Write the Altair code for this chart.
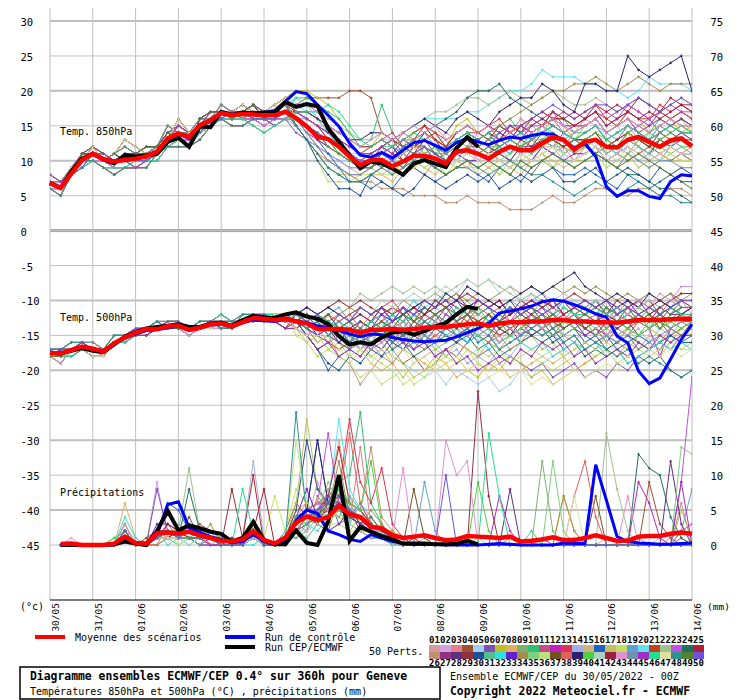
import altair as alt
import pandas as pd

DAYS = ["30/05", "31/05", "01/06", "02/06", "03/06", "04/06", "05/06", "06/06",
        "07/06", "08/06", "09/06", "10/06", "11/06", "12/06", "13/06", "14/06"]
TICKS = [-45, -40, -35, -30, -25, -20, -15, -10, -5, 0, 5, 10, 15, 20, 25, 30]
THICK = [-40, -30, -20, -10, 10, 20, 30]

COLORS = ["#d49aa0", "#d4a0e0", "#e08088", "#a05030", "#a0d0f0", "#8050b0", "#c0c020", "#e0b060", "#80b070", "#30c070",
          "#c05080", "#c020c0", "#e03050", "#a0b0e0", "#d0b080", "#2060c0", "#c0c060", "#c0e060", "#60a0d0", "#60e0f0",
          "#c04020", "#a0c090", "#c050e0", "#207060", "#b02030",
          "#c09070", "#903080", "#603080", "#903040", "#205090", "#50c090", "#30e0e0", "#6020d0", "#a09050", "#80d080",
          "#c0e080", "#705020", "#e06060", "#302070", "#50d040", "#b0d0c0", "#a02040", "#e090d0", "#7090b0", "#a030c0",
          "#20e090", "#e0e0a0", "#309090", "#508030", "#7050e0"]

# ---- mean / control / operational (850 hPa, 500 hPa in degC; precip in mm, steps 1..60)
MEAN850 = [6.8, 6.1, 8.2, 10.1, 11.0, 10.2, 9.9, 10.1, 10.3, 10.6, 11.3, 13.2, 13.9, 13.4, 15.1, 15.8, 16.8, 16.5, 16.7, 16.6,
           16.5, 16.5, 17.0, 16.1, 14.9, 13.4, 13.1, 12.0, 10.6, 9.4, 10.1, 10.1, 9.2, 9.9, 10.7, 10.7, 10.3, 9.6, 11.3, 11.5,
           11.0, 10.3, 11.3, 12.0, 11.5, 11.5, 12.5, 13.4, 13.0, 11.6, 12.7, 13.0, 12.0, 11.9, 13.0, 13.4, 12.7, 12.0, 12.9, 13.2, 12.1]
CTRL850 = [6.9, 6.2, 8.3, 10.2, 11.1, 10.3, 10.0, 10.3, 10.5, 10.7, 11.4, 13.0, 13.8, 13.2, 15.0, 15.6, 16.9, 16.6, 16.8, 16.8,
           16.9, 17.2, 18.5, 19.9, 19.6, 18.0, 16.5, 14.9, 12.5, 10.8, 10.5, 11.2, 10.4, 11.5, 12.6, 12.9, 12.2, 11.5, 12.6, 13.2,
           12.7, 12.3, 12.9, 13.4, 13.2, 13.6, 13.9, 13.8, 12.9, 11.8, 12.5, 10.6, 6.3, 4.9, 5.7, 5.7, 4.9, 4.6, 7.0, 8.0, 7.8]
OPER850 = [6.8, 6.1, 8.5, 10.3, 11.0, 10.2, 9.6, 10.8, 10.6, 10.8, 11.0, 12.7, 13.3, 12.0, 14.9, 14.8, 17.0, 16.6, 16.9, 16.8,
           16.9, 16.9, 18.4, 17.7, 18.1, 17.8, 14.6, 12.7, 10.8, 8.9, 9.9, 9.6, 8.9, 8.0, 9.6, 10.1, 9.6, 9.1, 11.8, 13.4, 12.0]

MEAN500 = [-17.5, -17.6, -17.1, -16.6, -16.9, -17.3, -16.1, -15.3, -14.6, -14.1, -14.1, -13.7, -13.6, -14.2, -13.9, -13.4, -13.3, -13.7, -13.1, -12.5,
           -12.6, -12.8, -12.6, -13.0, -13.3, -14.1, -14.1, -14.1, -14.2, -14.6, -14.2, -14.2, -14.1, -14.2, -14.1, -13.9, -13.8, -13.8, -13.6, -13.4,
           -13.3, -13.6, -13.3, -13.1, -13.1, -13.0, -13.0, -12.8, -12.8, -13.0, -13.0, -13.1, -13.1, -13.2, -13.0, -12.8, -12.8, -12.8, -12.7, -12.6, -12.6]
CTRL500 = [-17.4, -17.5, -17.0, -16.7, -17.0, -17.2, -16.2, -15.4, -14.8, -14.3, -14.2, -13.9, -13.7, -14.3, -14.0, -13.5, -13.4, -13.8, -13.2, -12.8,
           -12.9, -13.0, -12.7, -12.9, -13.2, -13.6, -13.9, -14.3, -14.8, -15.2, -14.8, -14.9, -15.3, -15.6, -15.8, -15.9, -15.8, -15.7, -15.2, -14.6,
           -14.0, -13.3, -11.8, -11.5, -11.2, -10.8, -10.2, -9.9, -10.1, -10.6, -11.2, -11.9, -12.4, -15.1, -16.1, -20.1, -21.9, -21.1, -18.4, -15.6, -13.4]
OPER500 = [-17.5, -17.6, -17.2, -16.8, -17.2, -17.4, -16.3, -15.2, -14.5, -14.0, -13.8, -13.6, -13.4, -13.8, -13.8, -13.3, -13.2, -13.6, -12.8, -12.2,
           -12.4, -12.5, -12.0, -11.7, -12.3, -12.6, -13.4, -15.1, -16.3, -16.0, -16.3, -15.3, -14.6, -14.4, -14.9, -14.4, -13.7, -13.2, -12.0, -10.9, -11.2]

MEANPR = [0.15, 0.2, 0, 0, 0, 0.2, 1.2, 0.3, 0.2, 1.7, 1.8, 1.6, 1.9, 1.4, 1.0, 0.6, 0.5, 0.8, 2.0, 0.7,
          0.2, 1.1, 3.2, 4.1, 3.6, 4.0, 5.6, 4.4, 4.0, 2.6, 2.4, 1.4, 1.0, 1.2, 1.4, 1.0, 0.7, 0.8, 1.3, 1.2,
          1.1, 1.0, 1.2, 0.5, 0.6, 0.8, 1.1, 0.7, 0.7, 1.0, 1.4, 1.0, 0.6, 0.6, 1.2, 1.3, 1.3, 1.6, 1.8, 1.6]
CTRLPR = [0, 0, 0, 0, 0, 0, 0.8, 0.2, 0, 1.5, 5.8, 6.2, 2.5, 1.8, 1.2, 0.8, 0.3, 0.5, 1.5, 0.5,
          0, 0.5, 3.5, 5.0, 4.5, 2.0, 1.5, 0.8, 0.5, 1.5, 1.0, 0.5, 0.2, 0.1, 0.1, 0.1, 0, 0, 0, 0,
          0.1, 0.2, 0.1, 0, 0, 0, 0, 0.3, 0.2, 0.2, 11.5, 6.4, 1.2, 0.5, 0.3, 0.2, 0.1, 0.1, 0.2, 0.3]
OPERPR = [0, 0, 0, 0, 0, 0.1, 0.5, 0.2, 0, 2.0, 4.9, 2.1, 2.8, 2.4, 1.9, 1.6, 0.5, 1.0, 3.3, 0.7,
          0.1, 0.1, 2.1, 0.3, 0, 3.4, 10.0, 0.6, 2.6, 1.9, 1.3, 0.8, 0.2, 0.2, 0.2, 0.1, 0.1, 0.2, 0.6, 0.1]

# ---- perturbed members, 850 hPa: first 23 steps (10 variants) + steps 23..60 per member
E850 = [
    [7, 6, 8, 10, 11, 10, 10, 10, 10, 11, 11, 13, 14, 13, 15, 16, 17, 16, 17, 17, 16, 16, 17],
    [7, 6, 9, 11, 12, 11, 10, 11, 11, 11, 12, 14, 15, 14, 15, 16, 17, 17, 17, 18, 17, 17, 18],
    [6, 6, 8, 9, 10, 10, 9, 9, 9, 10, 10, 12, 13, 13, 14, 15, 16, 16, 16, 16, 15, 16, 16],
    [7, 7, 9, 10, 11, 10, 11, 12, 11, 11, 12, 15, 14, 14, 16, 16, 18, 17, 16, 17, 17, 17, 18],
    [8, 7, 8, 10, 11, 11, 10, 10, 9, 10, 11, 13, 15, 14, 15, 17, 17, 17, 18, 17, 16, 15, 16],
    [7, 6, 8, 9, 10, 9, 9, 9, 10, 10, 10, 12, 13, 12, 14, 15, 16, 16, 16, 15, 14, 15, 16],
    [7, 6, 9, 10, 12, 10, 11, 13, 12, 11, 11, 13, 16, 14, 15, 16, 17, 17, 18, 17, 17, 18, 19],
    [6, 5, 8, 10, 10, 9, 8, 9, 9, 9, 11, 12, 12, 12, 13, 15, 16, 15, 15, 16, 16, 16, 17],
    [7, 6, 8, 11, 11, 10, 11, 10, 11, 12, 12, 14, 13, 12, 16, 17, 17, 16, 17, 18, 16, 17, 17],
    [7, 6, 8, 9, 11, 10, 10, 11, 10, 10, 11, 13, 14, 13, 14, 16, 16, 17, 17, 16, 16, 16, 17],
]
L850 = [
    [17, 16, 15, 14, 12, 11, 10, 11, 12, 10, 12, 13, 11, 12, 14, 13, 12, 14, 15, 13, 12, 12, 14, 15, 13, 12, 14, 16, 15, 13, 14, 15, 13, 12, 14, 15, 16, 14],
    [16, 14, 12, 11, 10, 9, 8, 9, 8, 9, 10, 9, 11, 10, 9, 11, 12, 10, 11, 12, 10, 9, 10, 12, 13, 11, 10, 11, 12, 10, 11, 13, 12, 10, 11, 12, 11, 11],
    [15, 13, 11, 10, 9, 8, 8, 9, 10, 11, 10, 9, 8, 10, 11, 10, 9, 11, 12, 10, 9, 11, 13, 12, 11, 12, 10, 12, 13, 11, 12, 14, 12, 11, 13, 12, 11, 12],
    [18, 19, 19, 19, 19, 20, 20, 19, 14, 13, 12, 13, 12, 11, 10, 11, 12, 11, 10, 11, 10, 9, 8, 10, 11, 10, 9, 10, 11, 12, 11, 10, 11, 12, 11, 10, 11, 10],
    [15, 14, 12, 11, 10, 10, 9, 10, 9, 11, 12, 11, 10, 12, 13, 11, 12, 13, 12, 11, 13, 14, 12, 13, 15, 14, 12, 13, 12, 14, 15, 13, 12, 14, 13, 12, 14, 13],
    [14, 13, 12, 11, 10, 9, 9, 10, 11, 12, 11, 10, 12, 11, 10, 12, 13, 11, 10, 12, 13, 12, 11, 13, 12, 14, 13, 14, 15, 13, 12, 14, 15, 16, 14, 15, 16, 15],
    [20, 20, 19, 18, 16, 14, 12, 12, 14, 13, 12, 14, 15, 13, 12, 15, 16, 14, 13, 15, 14, 16, 15, 14, 16, 15, 13, 15, 16, 14, 15, 17, 16, 14, 15, 16, 14, 15],
    [15, 13, 11, 10, 9, 8, 7, 8, 8, 7, 9, 10, 9, 8, 10, 9, 10, 8, 9, 10, 9, 8, 10, 11, 9, 11, 10, 11, 12, 10, 9, 11, 12, 11, 10, 12, 11, 11],
    [16, 15, 14, 13, 12, 11, 10, 10, 11, 12, 11, 10, 11, 12, 11, 10, 12, 11, 12, 11, 10, 12, 11, 13, 12, 12, 11, 12, 11, 13, 12, 11, 13, 12, 12, 11, 12, 11],
    [19, 19, 18, 17, 16, 14, 12, 13, 18, 14, 12, 13, 15, 14, 12, 14, 15, 14, 13, 15, 16, 14, 13, 15, 17, 16, 14, 15, 16, 14, 15, 16, 15, 14, 16, 15, 16, 15],
    [16, 15, 14, 12, 11, 10, 9, 10, 9, 10, 11, 10, 12, 11, 9, 11, 12, 12, 11, 13, 12, 11, 13, 14, 13, 12, 13, 13, 14, 12, 13, 15, 14, 13, 14, 15, 14, 14],
    [16, 14, 13, 12, 11, 10, 9, 10, 11, 12, 10, 11, 13, 12, 10, 12, 13, 13, 14, 13, 15, 14, 15, 16, 17, 15, 15, 16, 17, 15, 16, 17, 16, 15, 17, 16, 17, 16],
    [17, 16, 15, 14, 13, 12, 11, 12, 13, 14, 12, 13, 15, 14, 13, 14, 15, 14, 15, 16, 14, 15, 16, 17, 16, 17, 16, 17, 18, 16, 17, 18, 17, 16, 18, 17, 18, 17],
    [15, 13, 12, 11, 10, 9, 9, 9, 10, 8, 9, 10, 9, 10, 9, 10, 11, 10, 11, 10, 9, 11, 10, 11, 12, 10, 10, 11, 12, 10, 11, 12, 10, 11, 10, 12, 11, 11],
    [16, 15, 13, 12, 11, 10, 9, 10, 11, 10, 11, 12, 10, 11, 10, 11, 12, 11, 12, 11, 10, 12, 13, 12, 12, 13, 11, 12, 13, 12, 11, 13, 12, 11, 12, 13, 12, 12],
    [16, 15, 13, 11, 9, 7, 7, 6, 7, 6, 8, 9, 8, 7, 8, 9, 9, 8, 7, 9, 8, 7, 9, 10, 9, 8, 8, 9, 8, 7, 6, 8, 7, 6, 7, 8, 7, 7],
    [15, 13, 11, 9, 8, 8, 7, 8, 9, 10, 8, 9, 11, 10, 8, 9, 10, 10, 9, 8, 10, 9, 10, 11, 10, 9, 10, 10, 11, 9, 10, 11, 9, 10, 11, 10, 10, 10],
    [15, 13, 10, 7, 7, 7, 8, 8, 9, 8, 10, 9, 10, 9, 8, 10, 9, 9, 10, 9, 8, 10, 11, 10, 9, 10, 9, 10, 11, 10, 9, 11, 10, 9, 10, 11, 10, 10],
    [16, 16, 15, 14, 13, 12, 11, 11, 12, 13, 12, 13, 14, 12, 12, 13, 14, 13, 14, 12, 13, 15, 13, 14, 15, 14, 13, 14, 15, 14, 13, 15, 14, 13, 15, 14, 15, 14],
    [18, 17, 16, 14, 12, 11, 11, 12, 13, 13, 14, 15, 16, 16, 16, 16, 17, 17, 18, 19, 20, 20, 21, 23, 22, 22, 22, 21, 21, 20, 20, 19, 20, 22, 21, 21, 21, 20],
    [17, 16, 15, 13, 12, 11, 10, 11, 12, 13, 12, 12, 13, 14, 12, 13, 14, 14, 13, 15, 14, 15, 16, 17, 16, 16, 15, 16, 17, 16, 15, 17, 16, 16, 17, 16, 17, 16],
    [17, 17, 17, 16, 15, 14, 13, 13, 14, 13, 14, 15, 16, 17, 17, 18, 19, 19, 18, 19, 20, 19, 18, 19, 20, 19, 18, 18, 19, 18, 17, 18, 19, 18, 17, 18, 19, 18],
    [18, 18, 17, 15, 13, 11, 10, 10, 11, 12, 11, 12, 12, 11, 10, 12, 13, 12, 13, 14, 13, 14, 15, 15, 16, 15, 14, 15, 16, 17, 16, 18, 17, 16, 17, 18, 17, 17],
    [15, 13, 11, 9, 8, 7, 7, 8, 9, 10, 11, 12, 14, 15, 16, 17, 19, 20, 20, 21, 19, 18, 17, 16, 15, 14, 13, 12, 11, 10, 9, 8, 8, 7, 6, 6, 5, 4],
    [16, 15, 14, 13, 12, 11, 10, 10, 12, 11, 10, 12, 13, 12, 11, 12, 13, 13, 14, 13, 15, 14, 16, 15, 17, 16, 17, 16, 18, 17, 18, 17, 19, 18, 17, 19, 18, 18],
    [16, 14, 12, 10, 9, 8, 7, 7, 6, 6, 6, 5, 5, 5, 4, 4, 5, 4, 4, 4, 3, 3, 3, 4, 5, 4, 4, 5, 6, 6, 5, 5, 6, 6, 5, 6, 6, 5],
    [17, 16, 15, 13, 12, 11, 10, 11, 12, 13, 11, 12, 14, 13, 11, 13, 14, 13, 14, 15, 14, 13, 15, 16, 15, 14, 15, 15, 16, 14, 15, 16, 14, 15, 16, 15, 16, 15],
    [16, 15, 14, 12, 11, 10, 9, 9, 11, 10, 9, 11, 12, 10, 9, 11, 12, 11, 12, 11, 10, 12, 12, 13, 12, 11, 12, 12, 13, 11, 12, 13, 12, 11, 13, 12, 13, 12],
    [16, 15, 14, 13, 11, 10, 9, 10, 11, 12, 10, 11, 13, 12, 10, 12, 13, 12, 13, 12, 11, 13, 12, 14, 13, 12, 13, 13, 14, 12, 13, 14, 13, 12, 14, 13, 14, 13],
    [15, 13, 10, 8, 6, 6, 5, 8, 7, 6, 5, 6, 8, 7, 6, 7, 8, 7, 8, 6, 7, 8, 7, 8, 9, 7, 7, 8, 9, 7, 8, 9, 8, 7, 9, 8, 9, 8],
    [16, 15, 14, 13, 12, 11, 10, 11, 12, 12, 13, 13, 12, 11, 12, 13, 14, 12, 13, 14, 13, 12, 14, 15, 14, 13, 14, 14, 15, 13, 14, 15, 14, 13, 15, 14, 15, 14],
    [19, 18, 16, 14, 12, 11, 10, 10, 11, 12, 11, 10, 12, 11, 10, 11, 12, 11, 10, 12, 11, 12, 11, 13, 12, 11, 12, 12, 13, 12, 11, 13, 12, 11, 12, 13, 12, 12],
    [16, 15, 13, 12, 11, 10, 9, 9, 10, 9, 10, 11, 10, 9, 10, 11, 10, 10, 11, 10, 9, 11, 10, 12, 11, 10, 11, 11, 12, 10, 11, 12, 11, 10, 11, 12, 11, 11],
    [16, 15, 14, 13, 12, 11, 10, 10, 11, 10, 11, 12, 12, 11, 11, 12, 13, 13, 14, 15, 16, 17, 18, 19, 20, 20, 21, 21, 22, 21, 20, 21, 22, 21, 20, 21, 21, 21],
    [16, 15, 14, 12, 11, 10, 9, 10, 11, 10, 12, 11, 12, 11, 10, 11, 12, 11, 12, 10, 11, 12, 11, 12, 13, 11, 12, 12, 13, 11, 12, 13, 12, 11, 12, 13, 12, 12],
    [16, 15, 14, 12, 11, 10, 9, 9, 8, 8, 9, 10, 9, 10, 8, 9, 10, 9, 10, 8, 9, 10, 9, 10, 11, 10, 9, 10, 11, 9, 10, 11, 10, 9, 10, 11, 10, 10],
    [16, 15, 14, 13, 12, 11, 10, 10, 11, 10, 11, 12, 13, 11, 10, 12, 13, 12, 11, 12, 13, 12, 13, 14, 13, 12, 13, 13, 14, 12, 13, 14, 13, 12, 13, 14, 13, 13],
    [17, 16, 15, 14, 13, 12, 11, 12, 13, 12, 14, 13, 14, 13, 12, 14, 15, 14, 15, 13, 14, 15, 14, 15, 16, 14, 15, 15, 16, 14, 15, 16, 15, 14, 15, 16, 15, 15],
    [17, 17, 16, 15, 14, 13, 13, 14, 14, 13, 14, 15, 16, 15, 14, 16, 17, 16, 15, 17, 18, 19, 19, 21, 20, 18, 17, 21, 21, 20, 20, 25, 23, 22, 23, 24, 25, 20],
    [16, 15, 14, 13, 11, 10, 9, 10, 11, 10, 11, 12, 11, 12, 10, 11, 12, 11, 12, 12, 13, 12, 13, 13, 14, 13, 12, 13, 14, 13, 12, 14, 13, 14, 13, 14, 15, 14],
    [16, 15, 14, 12, 11, 10, 9, 9, 10, 9, 10, 11, 10, 9, 10, 10, 11, 10, 11, 10, 9, 11, 10, 11, 12, 11, 10, 11, 12, 11, 10, 12, 11, 10, 11, 12, 11, 11],
    [17, 17, 16, 15, 14, 13, 12, 12, 13, 12, 13, 14, 15, 13, 12, 14, 15, 14, 15, 14, 13, 15, 14, 15, 16, 16, 15, 16, 17, 15, 16, 17, 16, 17, 16, 17, 18, 17],
    [17, 16, 15, 15, 14, 13, 12, 13, 14, 13, 14, 15, 14, 15, 13, 14, 15, 14, 15, 13, 14, 16, 14, 15, 16, 15, 14, 15, 16, 14, 15, 16, 15, 14, 15, 16, 15, 15],
    [16, 14, 12, 10, 9, 8, 8, 9, 10, 9, 10, 11, 10, 9, 8, 9, 10, 9, 10, 9, 8, 10, 9, 10, 11, 10, 9, 10, 11, 10, 9, 11, 10, 9, 10, 10, 9, 9],
    [17, 16, 15, 14, 13, 12, 11, 11, 12, 11, 13, 12, 13, 12, 11, 13, 14, 13, 14, 12, 13, 14, 13, 14, 15, 14, 13, 14, 15, 13, 14, 15, 14, 13, 14, 15, 14, 14],
    [17, 17, 17, 18, 17, 15, 13, 12, 13, 12, 13, 14, 13, 12, 11, 13, 14, 13, 14, 12, 13, 14, 13, 14, 15, 14, 13, 14, 15, 13, 14, 15, 14, 13, 14, 15, 14, 14],
    [16, 15, 14, 13, 12, 11, 10, 10, 11, 10, 11, 12, 11, 10, 9, 10, 11, 10, 11, 10, 9, 11, 10, 11, 12, 11, 10, 11, 12, 10, 11, 12, 11, 10, 11, 12, 11, 11],
    [15, 13, 11, 9, 8, 7, 7, 8, 9, 8, 9, 10, 10, 9, 8, 9, 10, 9, 8, 9, 10, 9, 8, 8, 7, 6, 5, 6, 7, 6, 5, 6, 7, 6, 5, 5, 4, 4],
    [16, 15, 14, 12, 11, 10, 9, 9, 10, 9, 10, 11, 10, 9, 8, 9, 10, 9, 10, 9, 8, 10, 9, 10, 11, 10, 9, 10, 11, 10, 9, 10, 11, 10, 9, 8, 7, 6],
    [16, 15, 14, 13, 12, 11, 10, 10, 11, 10, 12, 11, 12, 11, 10, 12, 13, 13, 12, 14, 15, 15, 16, 17, 18, 17, 16, 17, 18, 18, 17, 18, 19, 18, 17, 18, 19, 18],
]

# ---- perturbed members, 500 hPa: first 23 steps (8 variants) + steps 23..60 per member
E500 = [
    [-18, -18, -17, -17, -17, -17, -16, -15, -15, -14, -14, -14, -14, -14, -14, -13, -13, -14, -13, -13, -13, -13, -13],
    [-17, -17, -17, -16, -17, -17, -16, -15, -14, -14, -14, -13, -13, -14, -14, -13, -13, -13, -13, -12, -12, -13, -12],
    [-18, -19, -17, -17, -17, -18, -16, -16, -15, -14, -14, -14, -14, -15, -14, -14, -14, -14, -13, -13, -13, -13, -13],
    [-17, -18, -17, -16, -16, -17, -15, -15, -14, -14, -13, -13, -13, -14, -13, -13, -13, -13, -12, -12, -12, -12, -12],
    [-18, -17, -17, -17, -17, -17, -16, -15, -15, -15, -14, -14, -14, -14, -14, -13, -14, -14, -13, -12, -13, -13, -14],
    [-17, -18, -18, -17, -17, -17, -16, -16, -15, -14, -14, -13, -13, -14, -13, -13, -12, -13, -13, -12, -12, -12, -13],
    [-18, -18, -17, -17, -18, -18, -16, -15, -14, -14, -14, -14, -13, -14, -14, -14, -13, -14, -13, -13, -13, -12, -12],
    [-17, -17, -16, -16, -17, -17, -15, -15, -15, -14, -13, -14, -14, -14, -13, -13, -14, -14, -12, -12, -13, -13, -13],
]
L500 = [
    [-13, -14, -13, -15, -14, -15, -16, -14, -15, -13, -14, -15, -13, -12, -13, -12, -11, -13, -12, -13, -11, -12, -13, -11, -12, -11, -12, -13, -12, -13, -11, -12, -11, -12, -11, -12, -10, -11],
    [-13, -15, -14, -16, -17, -16, -17, -15, -16, -14, -16, -15, -13, -14, -12, -13, -11, -12, -11, -12, -10, -11, -9, -11, -10, -12, -11, -12, -10, -12, -11, -13, -12, -13, -11, -12, -10, -12],
    [-12, -13, -12, -14, -13, -15, -14, -16, -15, -17, -15, -16, -14, -15, -16, -14, -15, -13, -14, -13, -15, -14, -12, -13, -12, -13, -12, -14, -13, -15, -13, -12, -13, -12, -14, -13, -12, -13],
    [-13, -12, -13, -12, -14, -15, -17, -16, -18, -17, -19, -18, -20, -19, -17, -18, -16, -15, -16, -14, -15, -13, -15, -14, -13, -14, -13, -15, -14, -16, -14, -15, -13, -14, -13, -15, -14, -13],
    [-13, -14, -13, -15, -16, -15, -17, -16, -18, -17, -19, -20, -21, -20, -22, -20, -21, -22, -21, -23, -22, -20, -21, -19, -18, -17, -18, -16, -17, -15, -16, -15, -17, -15, -16, -14, -15, -15],
    [-13, -14, -15, -14, -16, -15, -14, -15, -14, -16, -15, -17, -16, -18, -17, -16, -17, -18, -17, -19, -18, -19, -20, -19, -21, -20, -19, -21, -20, -21, -19, -20, -18, -17, -16, -17, -15, -14],
    [-14, -16, -15, -17, -16, -15, -16, -17, -16, -18, -19, -21, -20, -18, -19, -18, -20, -21, -19, -20, -18, -19, -21, -20, -22, -21, -20, -19, -18, -17, -16, -17, -15, -14, -15, -16, -14, -15],
    [-13, -14, -13, -15, -16, -17, -16, -18, -17, -19, -17, -18, -19, -20, -19, -21, -20, -19, -20, -19, -21, -20, -19, -18, -19, -18, -20, -19, -18, -17, -18, -16, -17, -15, -16, -14, -15, -14],
    [-12, -13, -12, -13, -14, -13, -14, -15, -13, -14, -12, -13, -11, -12, -11, -12, -10, -12, -11, -13, -12, -11, -12, -10, -12, -11, -12, -11, -12, -10, -12, -11, -13, -11, -12, -11, -12, -11],
    [-13, -14, -13, -15, -14, -16, -14, -13, -14, -12, -13, -11, -12, -10, -11, -10, -9, -10, -11, -12, -11, -13, -12, -14, -12, -13, -11, -12, -10, -11, -12, -13, -12, -14, -12, -13, -11, -11],
    [-13, -14, -15, -13, -14, -13, -15, -14, -13, -15, -14, -12, -13, -12, -14, -13, -12, -13, -12, -14, -13, -15, -13, -14, -12, -13, -12, -14, -13, -15, -14, -13, -12, -13, -12, -14, -13, -12],
    [-14, -15, -17, -16, -15, -16, -14, -15, -14, -16, -14, -15, -13, -14, -12, -13, -12, -14, -13, -15, -14, -16, -15, -14, -13, -14, -13, -15, -14, -15, -16, -14, -13, -14, -18, -14, -13, -13],
    [-12, -13, -12, -13, -12, -13, -11, -12, -11, -10, -12, -11, -12, -10, -11, -10, -9, -10, -11, -10, -12, -11, -10, -9, -11, -10, -11, -10, -11, -10, -12, -11, -12, -11, -10, -9, -11, -11],
    [-13, -14, -15, -14, -16, -15, -17, -15, -16, -15, -17, -16, -17, -16, -18, -17, -19, -18, -19, -17, -18, -16, -17, -16, -15, -16, -15, -17, -16, -15, -14, -15, -14, -16, -14, -15, -13, -14],
    [-13, -15, -14, -16, -14, -15, -13, -14, -13, -15, -13, -14, -12, -13, -14, -12, -13, -12, -13, -12, -14, -13, -12, -13, -14, -12, -13, -12, -13, -14, -12, -13, -12, -13, -12, -14, -12, -13],
    [-13, -15, -17, -20, -18, -17, -18, -16, -17, -15, -16, -14, -15, -16, -14, -15, -16, -14, -15, -13, -14, -15, -13, -14, -13, -15, -14, -15, -16, -15, -17, -16, -15, -16, -17, -15, -16, -15],
    [-12, -14, -13, -15, -16, -18, -17, -19, -20, -19, -21, -19, -18, -17, -18, -16, -17, -18, -16, -17, -15, -16, -15, -17, -16, -18, -17, -16, -17, -15, -16, -14, -16, -17, -18, -16, -15, -15],
    [-15, -16, -18, -17, -18, -19, -17, -18, -19, -20, -22, -21, -20, -19, -18, -19, -17, -19, -20, -18, -19, -17, -18, -19, -20, -19, -18, -17, -18, -17, -19, -18, -17, -16, -17, -16, -17, -16],
    [-13, -12, -13, -12, -11, -13, -12, -13, -12, -11, -12, -10, -12, -11, -12, -10, -11, -10, -11, -10, -12, -11, -10, -11, -12, -10, -11, -10, -11, -10, -12, -10, -11, -10, -11, -12, -10, -10],
    [-12, -11, -12, -11, -12, -13, -12, -13, -12, -11, -12, -10, -11, -10, -9, -10, -11, -10, -11, -12, -10, -11, -10, -9, -10, -11, -10, -11, -10, -12, -10, -11, -10, -9, -10, -9, -10, -10],
    [-14, -15, -17, -16, -17, -16, -15, -16, -15, -14, -15, -14, -16, -15, -14, -13, -14, -13, -14, -15, -14, -13, -12, -13, -12, -13, -12, -13, -12, -14, -13, -12, -13, -12, -13, -11, -12, -11],
    [-12, -11, -12, -11, -10, -11, -9, -10, -9, -8, -9, -8, -9, -8, -9, -8, -7, -8, -7, -8, -9, -10, -9, -10, -11, -10, -11, -10, -11, -10, -12, -11, -10, -11, -10, -11, -9, -9],
    [-13, -14, -13, -15, -14, -13, -12, -13, -12, -14, -13, -15, -13, -14, -12, -13, -12, -14, -13, -12, -13, -11, -13, -12, -13, -12, -14, -13, -12, -13, -12, -11, -12, -11, -12, -11, -12, -11],
    [-13, -14, -16, -15, -16, -17, -15, -16, -15, -17, -16, -18, -17, -16, -15, -16, -15, -17, -16, -18, -17, -16, -15, -16, -15, -17, -16, -18, -17, -18, -17, -19, -18, -19, -18, -20, -21, -20],
    [-12, -11, -12, -11, -10, -11, -10, -11, -12, -11, -12, -11, -10, -11, -10, -9, -11, -10, -11, -10, -12, -10, -11, -10, -11, -10, -9, -10, -11, -10, -11, -12, -10, -11, -10, -11, -10, -10],
    [-13, -14, -16, -15, -18, -19, -22, -20, -18, -19, -17, -16, -17, -15, -14, -15, -14, -15, -16, -15, -17, -16, -14, -15, -14, -15, -16, -14, -15, -14, -15, -14, -13, -14, -13, -14, -15, -13],
    [-13, -12, -14, -13, -15, -14, -15, -13, -14, -13, -12, -14, -12, -13, -11, -12, -11, -12, -11, -13, -12, -11, -12, -11, -13, -12, -11, -12, -11, -12, -13, -11, -12, -13, -11, -12, -12, -12],
    [-14, -13, -15, -16, -15, -17, -16, -15, -14, -16, -15, -14, -15, -13, -14, -13, -15, -14, -13, -14, -15, -13, -14, -13, -15, -14, -13, -14, -15, -13, -14, -13, -15, -14, -13, -14, -13, -14],
    [-12, -13, -12, -14, -13, -12, -11, -12, -11, -13, -12, -11, -12, -10, -11, -10, -12, -11, -10, -11, -10, -12, -11, -10, -11, -10, -12, -11, -10, -12, -11, -10, -11, -10, -12, -11, -10, -11],
    [-13, -15, -17, -19, -20, -18, -19, -17, -18, -16, -17, -15, -16, -14, -15, -16, -14, -15, -14, -16, -15, -14, -15, -14, -16, -15, -14, -16, -15, -17, -16, -15, -16, -17, -16, -15, -16, -16],
    [-13, -14, -13, -15, -13, -14, -13, -14, -13, -12, -14, -12, -13, -12, -11, -13, -11, -12, -11, -13, -11, -12, -11, -12, -13, -11, -12, -11, -12, -11, -13, -12, -11, -12, -11, -12, -11, -11],
    [-12, -13, -12, -14, -13, -14, -15, -13, -12, -13, -12, -13, -14, -13, -15, -14, -16, -15, -17, -16, -15, -16, -17, -16, -18, -17, -16, -17, -16, -18, -17, -19, -18, -17, -16, -17, -16, -17],
    [-13, -14, -15, -14, -16, -14, -13, -14, -12, -13, -11, -12, -11, -12, -11, -10, -11, -10, -11, -10, -12, -11, -10, -11, -10, -12, -11, -12, -11, -10, -11, -10, -12, -11, -12, -11, -10, -10],
    [-12, -13, -12, -11, -12, -11, -12, -13, -11, -12, -10, -11, -10, -9, -10, -9, -10, -9, -10, -9, -8, -9, -8, -9, -8, -9, -8, -9, -8, -9, -10, -9, -10, -9, -10, -9, -10, -9],
    [-14, -15, -14, -16, -15, -14, -15, -16, -14, -15, -14, -16, -15, -17, -16, -15, -14, -15, -14, -16, -15, -14, -13, -14, -13, -15, -14, -13, -14, -13, -15, -14, -15, -14, -13, -14, -13, -14],
    [-14, -16, -15, -17, -18, -19, -21, -20, -22, -21, -20, -22, -21, -19, -20, -19, -18, -17, -18, -17, -19, -18, -17, -18, -17, -18, -17, -16, -17, -16, -17, -18, -17, -18, -17, -16, -17, -17],
    [-13, -14, -13, -15, -14, -15, -13, -14, -13, -14, -15, -13, -14, -12, -13, -14, -12, -13, -12, -14, -13, -12, -13, -12, -14, -13, -12, -14, -13, -12, -13, -14, -12, -13, -12, -13, -12, -12],
    [-12, -13, -14, -12, -13, -12, -14, -12, -13, -11, -12, -11, -13, -12, -11, -12, -13, -11, -12, -11, -13, -12, -11, -12, -11, -12, -11, -12, -13, -11, -12, -11, -12, -11, -12, -10, -11, -11],
    [-12, -11, -12, -11, -12, -13, -11, -12, -11, -13, -12, -11, -10, -11, -9, -10, -8, -9, -10, -11, -10, -9, -8, -9, -8, -7, -6, -8, -9, -10, -9, -10, -11, -9, -10, -11, -12, -11],
    [-13, -14, -13, -15, -14, -15, -16, -14, -15, -14, -16, -14, -15, -13, -14, -13, -15, -13, -14, -13, -15, -14, -13, -14, -15, -13, -14, -13, -15, -14, -13, -14, -15, -13, -14, -13, -14, -13],
    [-12, -13, -12, -14, -12, -13, -11, -12, -10, -11, -10, -9, -10, -9, -8, -9, -7, -8, -7, -9, -8, -10, -9, -11, -10, -9, -10, -11, -10, -11, -10, -12, -11, -10, -11, -10, -11, -11],
    [-13, -12, -13, -12, -14, -13, -12, -13, -11, -12, -11, -13, -12, -11, -10, -11, -12, -10, -11, -10, -12, -11, -10, -11, -10, -12, -11, -10, -11, -12, -10, -11, -10, -12, -11, -10, -9, -9],
    [-14, -15, -14, -16, -15, -17, -16, -17, -16, -15, -16, -14, -15, -13, -14, -13, -15, -14, -15, -16, -14, -15, -13, -14, -12, -13, -12, -13, -12, -13, -11, -12, -10, -11, -9, -10, -8, -8],
    [-13, -14, -13, -15, -14, -16, -15, -17, -15, -16, -15, -17, -15, -16, -14, -15, -14, -16, -15, -17, -16, -15, -14, -15, -14, -16, -15, -17, -16, -15, -16, -15, -17, -16, -15, -14, -15, -15],
    [-14, -15, -17, -16, -18, -17, -18, -16, -17, -15, -16, -17, -16, -18, -17, -19, -18, -20, -19, -18, -19, -17, -18, -16, -17, -16, -18, -17, -19, -18, -17, -18, -16, -17, -15, -16, -15, -15],
    [-12, -13, -12, -13, -14, -13, -15, -13, -14, -12, -13, -12, -14, -12, -13, -11, -12, -11, -13, -12, -11, -12, -11, -13, -12, -11, -12, -12, -11, -12, -11, -13, -12, -11, -12, -11, -12, -12],
    [-14, -15, -16, -15, -17, -18, -17, -19, -17, -18, -17, -19, -18, -20, -19, -18, -20, -19, -21, -20, -21, -20, -22, -21, -22, -21, -20, -21, -20, -19, -20, -18, -19, -17, -18, -17, -18, -17],
    [-13, -14, -13, -15, -14, -16, -14, -15, -14, -16, -15, -14, -13, -14, -13, -15, -14, -16, -15, -17, -16, -15, -14, -15, -14, -16, -15, -17, -16, -17, -18, -17, -19, -18, -19, -20, -21, -20],
    [-13, -12, -13, -12, -14, -13, -15, -14, -13, -14, -12, -13, -11, -12, -11, -13, -12, -14, -12, -13, -11, -12, -11, -13, -12, -14, -13, -12, -13, -11, -12, -11, -13, -12, -14, -12, -11, -11],
    [-12, -13, -12, -14, -12, -13, -11, -12, -11, -13, -11, -12, -10, -11, -10, -12, -11, -10, -11, -12, -11, -12, -11, -12, -11, -10, -11, -10, -11, -10, -12, -11, -12, -11, -12, -11, -10, -10],
]

# ---- perturbed members, precipitation (mm per 6 h, steps 1..60)
PR = [
    [0, 0, 0, 0, 0, 0, 2, 0, 0, 1, 2, 1, 3, 1, 0, 0, 0, 1, 3, 0, 0, 1, 4, 6, 3, 5, 8, 4, 3, 2, 1, 0, 0, 0, 1, 0, 0, 0, 0, 0, 0, 0, 0, 0, 0, 0, 0, 0, 0, 0, 0, 0, 0, 0, 1, 0, 0, 1, 2, 1],
    [0, 1, 0, 0, 0, 0, 3, 0, 0, 9, 1, 2, 1, 0, 0, 0, 0, 0, 1, 0, 0, 0, 2, 3, 9, 5, 6, 7, 3, 2, 3, 1, 0, 1, 0, 0, 0, 1, 0, 0, 0, 0, 1, 0, 0, 0, 0, 0, 0, 0, 0, 1, 0, 0, 0, 0, 0, 0, 0, 0],
    [0, 0, 0, 0, 0, 0, 1, 0, 0, 1, 3, 2, 2, 1, 1, 0, 0, 0, 2, 0, 0, 1, 3, 2, 4, 8, 5, 3, 14, 3, 2, 1, 0, 0, 0, 0, 0, 0, 1, 0, 0, 0, 0, 0, 0, 0, 0, 0, 0, 0, 0, 0, 0, 1, 0, 0, 0, 0, 1, 0],
    [0, 0, 0, 0, 0, 0, 1, 0, 0, 2, 1, 1, 2, 3, 2, 1, 0, 0, 1, 0, 0, 2, 6, 4, 3, 2, 7, 5, 4, 2, 1, 0, 0, 1, 0, 0, 0, 0, 0, 0, 0, 0, 0, 0, 0, 0, 0, 0, 0, 0, 0, 0, 0, 0, 0, 9, 3, 1, 0, 0],
    [0, 0, 0, 0, 0, 0, 2, 1, 0, 1, 2, 1, 1, 1, 0, 1, 0, 0, 2, 1, 0, 0, 3, 5, 6, 4, 9, 6, 3, 4, 2, 1, 0, 0, 0, 0, 0, 0, 0, 1, 0, 0, 0, 0, 0, 0, 0, 0, 0, 0, 0, 0, 0, 0, 0, 0, 1, 0, 0, 0],
    [0, 0, 0, 0, 0, 0, 2, 0, 0, 8, 2, 1, 1, 0, 1, 0, 0, 1, 1, 0, 0, 1, 2, 4, 5, 7, 3, 4, 6, 3, 2, 1, 1, 0, 0, 0, 0, 0, 0, 0, 0, 0, 0, 0, 0, 1, 0, 0, 0, 0, 0, 0, 0, 0, 0, 0, 0, 0, 0, 0],
    [0, 0, 0, 0, 0, 0, 3, 0, 0, 2, 1, 1, 2, 1, 1, 0, 1, 0, 2, 0, 0, 1, 5, 6, 4, 3, 5, 2, 4, 3, 2, 2, 1, 0, 0, 0, 0, 0, 0, 0, 0, 0, 1, 0, 0, 0, 0, 7, 2, 0, 0, 0, 0, 0, 0, 0, 0, 0, 0, 1],
    [0, 0, 0, 0, 0, 0, 6, 1, 0, 1, 2, 1, 2, 1, 1, 0, 0, 0, 1, 0, 0, 1, 3, 4, 5, 6, 7, 5, 4, 3, 1, 0, 0, 0, 0, 0, 0, 0, 0, 0, 0, 0, 0, 0, 0, 0, 0, 0, 0, 0, 0, 0, 0, 0, 0, 0, 0, 0, 0, 0],
    [0, 0, 0, 0, 0, 0, 2, 0, 0, 1, 1, 1, 1, 2, 1, 0, 0, 0, 2, 0, 0, 0, 2, 3, 4, 5, 8, 6, 3, 2, 1, 1, 0, 0, 0, 0, 0, 0, 0, 0, 0, 0, 0, 0, 0, 12, 2, 0, 0, 0, 0, 0, 0, 0, 0, 0, 0, 0, 1, 0],
    [0, 0, 0, 0, 0, 0, 1, 0, 0, 1, 2, 1, 1, 1, 0, 0, 0, 0, 1, 0, 0, 1, 4, 5, 6, 7, 9, 10, 19, 6, 3, 1, 0, 0, 0, 0, 0, 0, 0, 0, 0, 0, 0, 0, 0, 0, 0, 0, 0, 0, 0, 0, 0, 0, 0, 0, 0, 0, 0, 0],
    [0, 0, 0, 0, 0, 0, 2, 0, 0, 2, 2, 2, 2, 1, 1, 1, 0, 0, 2, 0, 0, 1, 3, 4, 5, 5, 6, 5, 4, 3, 2, 1, 0, 0, 0, 0, 0, 0, 0, 0, 0, 0, 0, 0, 0, 0, 0, 0, 0, 0, 0, 0, 0, 0, 0, 0, 0, 0, 2, 3],
    [0, 0, 0, 0, 0, 0, 1, 0, 0, 1, 1, 1, 2, 1, 1, 0, 0, 0, 2, 0, 0, 0, 2, 3, 4, 6, 7, 4, 3, 2, 2, 1, 0, 0, 0, 0, 0, 0, 0, 0, 0, 7, 2, 0, 0, 0, 0, 0, 0, 0, 0, 0, 0, 0, 9, 6, 1, 0, 0, 0],
    [0, 0, 0, 0, 0, 0, 2, 0, 0, 2, 2, 1, 2, 1, 1, 0, 0, 1, 2, 0, 0, 1, 3, 5, 6, 6, 8, 18, 9, 6, 11, 3, 1, 0, 0, 0, 0, 0, 0, 0, 0, 0, 0, 0, 0, 0, 0, 0, 0, 0, 0, 0, 0, 0, 0, 0, 0, 0, 0, 0],
    [0, 0, 0, 0, 0, 0, 1, 0, 0, 1, 1, 1, 1, 1, 0, 0, 0, 1, 12, 1, 0, 0, 2, 3, 4, 5, 6, 3, 2, 1, 1, 0, 0, 0, 0, 0, 0, 0, 0, 0, 0, 0, 0, 0, 0, 0, 0, 0, 0, 0, 0, 0, 0, 0, 0, 0, 0, 0, 0, 0],
    [0, 0, 0, 0, 0, 0, 3, 0, 0, 1, 2, 1, 2, 1, 1, 1, 0, 0, 2, 0, 0, 1, 4, 5, 6, 7, 15, 6, 5, 3, 2, 1, 0, 0, 0, 0, 0, 0, 0, 0, 0, 0, 0, 0, 0, 0, 0, 0, 0, 0, 0, 0, 0, 0, 0, 0, 0, 0, 5, 1],
    [0, 0, 0, 0, 0, 0, 1, 0, 0, 2, 6, 5, 2, 1, 1, 0, 0, 0, 1, 0, 0, 1, 3, 5, 15, 6, 5, 4, 3, 2, 1, 1, 0, 0, 0, 0, 0, 0, 0, 0, 0, 0, 0, 0, 0, 0, 0, 0, 0, 0, 0, 0, 0, 0, 0, 0, 0, 0, 0, 0],
    [0, 0, 0, 0, 0, 0, 2, 0, 0, 1, 1, 1, 1, 1, 1, 0, 0, 0, 1, 0, 0, 1, 6, 18, 8, 5, 4, 3, 2, 2, 1, 0, 0, 0, 0, 0, 0, 0, 0, 0, 0, 0, 0, 0, 0, 0, 0, 0, 0, 0, 0, 0, 0, 0, 0, 0, 0, 0, 0, 0],
    [0, 0, 0, 0, 0, 0, 2, 0, 0, 1, 1, 1, 1, 1, 0, 0, 0, 0, 2, 1, 7, 2, 8, 6, 4, 3, 3, 2, 2, 1, 1, 0, 0, 0, 0, 0, 0, 0, 0, 0, 0, 0, 0, 0, 0, 0, 0, 0, 0, 0, 0, 0, 0, 0, 0, 0, 0, 0, 0, 0],
    [0, 0, 0, 0, 0, 0, 1, 0, 0, 1, 2, 1, 2, 1, 1, 0, 0, 0, 2, 0, 0, 1, 3, 5, 6, 5, 7, 5, 4, 3, 2, 1, 0, 0, 9, 2, 0, 0, 0, 0, 0, 0, 0, 0, 0, 0, 0, 0, 0, 0, 0, 0, 0, 0, 0, 0, 0, 0, 2, 8],
    [0, 0, 0, 0, 0, 0, 2, 0, 0, 1, 2, 1, 1, 1, 0, 0, 0, 0, 1, 0, 0, 0, 3, 4, 5, 6, 18, 8, 5, 3, 2, 1, 0, 0, 0, 0, 0, 0, 0, 0, 0, 0, 0, 0, 0, 0, 0, 0, 0, 0, 0, 0, 0, 0, 0, 0, 0, 0, 0, 0],
    [0, 0, 0, 0, 0, 0, 2, 0, 0, 2, 2, 1, 2, 1, 1, 0, 0, 1, 2, 0, 0, 1, 4, 5, 6, 6, 7, 6, 5, 3, 2, 1, 0, 0, 0, 0, 0, 0, 0, 0, 0, 0, 0, 0, 0, 0, 0, 0, 0, 0, 0, 0, 0, 0, 0, 0, 0, 0, 0, 0],
    [0, 0, 0, 0, 0, 0, 1, 0, 0, 1, 1, 2, 11, 2, 1, 0, 0, 0, 1, 0, 0, 1, 3, 4, 5, 5, 6, 4, 3, 2, 1, 0, 0, 0, 0, 0, 0, 0, 0, 0, 0, 0, 0, 0, 0, 0, 0, 0, 0, 0, 0, 16, 8, 2, 0, 0, 0, 0, 0, 0],
    [0, 0, 0, 0, 0, 0, 2, 0, 0, 1, 1, 1, 2, 1, 1, 0, 0, 0, 2, 0, 0, 1, 3, 5, 6, 16, 6, 5, 4, 3, 2, 1, 0, 0, 0, 0, 0, 0, 0, 0, 0, 0, 0, 0, 0, 0, 0, 0, 0, 0, 0, 0, 0, 0, 0, 0, 0, 0, 9, 24],
    [0, 0, 0, 0, 0, 0, 2, 0, 0, 1, 2, 1, 8, 2, 1, 0, 0, 0, 2, 0, 0, 1, 3, 4, 5, 6, 7, 5, 4, 3, 2, 1, 0, 0, 0, 0, 0, 0, 0, 0, 0, 0, 0, 0, 0, 0, 0, 0, 0, 0, 0, 0, 0, 0, 13, 11, 10, 4, 1, 0],
    [0, 0, 0, 0, 0, 0, 2, 0, 0, 1, 2, 1, 2, 1, 1, 0, 0, 1, 10, 0, 0, 1, 4, 5, 6, 7, 14, 6, 5, 3, 2, 1, 0, 0, 0, 0, 0, 0, 0, 0, 0, 0, 0, 0, 0, 0, 0, 0, 0, 0, 0, 0, 0, 0, 0, 0, 0, 0, 0, 0],
    [0, 0, 0, 0, 0, 0, 3, 0, 0, 1, 2, 1, 2, 1, 1, 0, 0, 0, 2, 0, 0, 1, 3, 5, 6, 7, 8, 6, 5, 14, 4, 2, 0, 0, 0, 0, 0, 0, 0, 0, 0, 0, 0, 0, 0, 0, 0, 0, 0, 0, 0, 0, 0, 0, 0, 0, 0, 0, 6, 0],
    [0, 0, 0, 0, 0, 0, 1, 0, 0, 1, 1, 1, 1, 1, 0, 0, 0, 0, 1, 0, 0, 0, 2, 3, 4, 5, 6, 4, 3, 2, 1, 1, 0, 0, 0, 0, 0, 0, 0, 0, 0, 0, 0, 0, 0, 0, 0, 0, 0, 0, 0, 0, 0, 0, 0, 0, 0, 0, 0, 0],
    [0, 0, 0, 0, 0, 0, 2, 0, 0, 1, 2, 1, 2, 1, 1, 0, 0, 0, 2, 0, 0, 1, 3, 5, 5, 6, 7, 5, 4, 3, 2, 1, 0, 0, 0, 0, 0, 0, 0, 0, 0, 0, 8, 0, 0, 0, 0, 0, 0, 0, 0, 0, 0, 0, 0, 0, 0, 12, 3, 0],
    [0, 0, 0, 0, 0, 0, 2, 0, 0, 1, 2, 1, 2, 1, 1, 0, 8, 1, 2, 0, 0, 1, 3, 4, 5, 6, 7, 5, 4, 3, 2, 1, 0, 0, 0, 0, 0, 0, 0, 22, 7, 0, 0, 0, 0, 0, 0, 0, 0, 0, 0, 0, 0, 0, 0, 0, 0, 0, 0, 0],
    [0, 0, 0, 0, 0, 0, 2, 0, 0, 1, 2, 1, 2, 1, 1, 0, 0, 0, 2, 0, 0, 1, 5, 15, 8, 6, 5, 4, 3, 2, 1, 1, 0, 0, 0, 0, 0, 0, 0, 0, 0, 0, 0, 0, 0, 0, 0, 0, 0, 0, 0, 0, 0, 0, 0, 0, 0, 0, 0, 0],
    [0, 0, 0, 0, 0, 1, 1, 0, 0, 0, 1, 0, 1, 2, 1, 1, 0, 0, 1, 0, 0, 0, 2, 1, 3, 6, 4, 7, 5, 2, 1, 0, 0, 0, 0, 0, 0, 1, 0, 0, 0, 0, 0, 0, 2, 0, 0, 0, 0, 0, 0, 0, 0, 0, 0, 0, 0, 0, 0, 0],
    [0, 0, 0, 0, 0, 0, 4, 1, 0, 2, 0, 1, 0, 1, 2, 0, 0, 0, 0, 1, 0, 2, 1, 3, 2, 4, 10, 3, 6, 4, 2, 0, 0, 0, 0, 0, 0, 0, 0, 0, 0, 0, 0, 0, 0, 0, 0, 0, 1, 0, 0, 0, 0, 0, 0, 0, 0, 0, 0, 0],
    [0, 0, 0, 0, 0, 0, 1, 0, 0, 3, 3, 2, 1, 0, 0, 0, 0, 0, 2, 0, 0, 0, 4, 8, 4, 2, 3, 5, 2, 1, 1, 0, 0, 0, 0, 0, 0, 0, 0, 0, 0, 0, 0, 0, 0, 0, 0, 0, 0, 0, 0, 0, 0, 0, 0, 0, 0, 0, 0, 0],
    [0, 0, 0, 0, 0, 0, 2, 0, 0, 0, 1, 1, 1, 1, 3, 0, 0, 0, 1, 0, 0, 1, 1, 2, 7, 5, 12, 4, 3, 5, 3, 1, 0, 0, 0, 0, 0, 0, 0, 0, 0, 0, 0, 0, 0, 0, 0, 7, 2, 0, 0, 0, 0, 0, 0, 0, 0, 0, 0, 0],
    [0, 0, 0, 0, 0, 0, 3, 0, 0, 1, 1, 3, 2, 1, 0, 1, 0, 0, 3, 0, 0, 0, 3, 3, 5, 9, 6, 5, 4, 2, 1, 0, 0, 0, 0, 0, 0, 0, 0, 0, 0, 0, 0, 0, 0, 0, 12, 2, 0, 0, 0, 0, 0, 0, 0, 0, 0, 0, 14, 13],
    [0, 0, 0, 0, 0, 0, 2, 0, 0, 1, 2, 0, 1, 1, 1, 0, 0, 0, 2, 0, 0, 1, 15, 5, 4, 3, 5, 4, 3, 2, 1, 1, 0, 0, 0, 0, 0, 0, 0, 0, 0, 0, 0, 0, 0, 0, 0, 0, 0, 0, 0, 0, 0, 0, 0, 0, 0, 0, 0, 0],
    [0, 0, 0, 0, 0, 0, 1, 0, 1, 2, 2, 1, 4, 1, 1, 0, 1, 0, 2, 0, 0, 1, 2, 4, 3, 6, 9, 5, 3, 4, 2, 1, 0, 8, 1, 0, 0, 0, 0, 0, 0, 0, 0, 0, 0, 0, 0, 0, 0, 0, 7, 0, 0, 0, 0, 0, 0, 0, 0, 0],
    [0, 0, 0, 0, 0, 0, 2, 0, 0, 0, 3, 1, 2, 2, 0, 0, 0, 1, 2, 0, 0, 1, 2, 4, 6, 5, 7, 16, 6, 3, 2, 1, 0, 0, 0, 0, 0, 0, 0, 0, 0, 0, 0, 0, 0, 0, 0, 0, 7, 12, 4, 0, 0, 0, 0, 0, 0, 0, 0, 0],
    [0, 0, 0, 0, 0, 0, 2, 0, 0, 1, 1, 2, 1, 1, 1, 0, 0, 0, 3, 0, 0, 1, 3, 5, 15, 6, 5, 4, 3, 2, 1, 1, 0, 0, 0, 0, 0, 0, 0, 0, 0, 0, 0, 0, 0, 0, 0, 0, 0, 0, 0, 0, 0, 0, 0, 0, 0, 0, 0, 0],
    [0, 0, 0, 0, 0, 1, 2, 0, 0, 2, 2, 1, 1, 0, 2, 1, 0, 0, 2, 0, 0, 1, 4, 3, 5, 4, 8, 6, 5, 12, 3, 1, 0, 0, 0, 0, 0, 0, 0, 9, 2, 0, 0, 0, 0, 0, 0, 0, 0, 0, 0, 0, 0, 0, 0, 0, 0, 0, 0, 0],
    [0, 0, 0, 0, 0, 0, 1, 0, 0, 1, 1, 1, 0, 1, 1, 0, 0, 0, 1, 0, 0, 0, 2, 2, 3, 4, 5, 3, 2, 1, 1, 0, 0, 0, 0, 0, 0, 0, 0, 0, 0, 0, 0, 0, 0, 0, 0, 0, 0, 0, 0, 0, 0, 0, 0, 0, 0, 0, 0, 0],
    [0, 0, 0, 0, 0, 0, 2, 0, 0, 1, 3, 2, 2, 1, 1, 0, 1, 0, 2, 8, 0, 1, 3, 5, 4, 7, 6, 5, 4, 3, 2, 1, 0, 0, 0, 0, 0, 0, 0, 0, 0, 0, 0, 0, 0, 0, 0, 0, 0, 0, 0, 0, 0, 0, 0, 0, 0, 0, 0, 0],
    [0, 0, 0, 0, 0, 0, 3, 0, 0, 1, 1, 1, 2, 2, 1, 0, 0, 0, 2, 0, 0, 1, 3, 4, 6, 5, 7, 4, 4, 3, 2, 1, 11, 0, 0, 0, 15, 10, 12, 0, 0, 0, 0, 0, 0, 0, 0, 0, 0, 0, 0, 0, 0, 7, 0, 0, 0, 0, 0, 0],
    [0, 0, 0, 0, 0, 0, 2, 0, 0, 1, 2, 1, 1, 1, 1, 0, 0, 0, 2, 0, 0, 1, 2, 3, 5, 6, 6, 4, 4, 3, 2, 1, 0, 0, 0, 0, 0, 0, 0, 0, 0, 0, 0, 0, 0, 0, 0, 0, 0, 0, 0, 0, 0, 0, 0, 0, 0, 0, 0, 0],
    [0, 0, 0, 0, 0, 0, 1, 0, 0, 2, 2, 1, 2, 1, 0, 0, 0, 0, 2, 0, 0, 0, 3, 4, 5, 7, 6, 5, 3, 3, 2, 1, 0, 0, 0, 0, 0, 0, 0, 0, 0, 0, 0, 0, 0, 0, 0, 0, 0, 0, 0, 0, 0, 0, 0, 0, 0, 0, 9, 0],
    [0, 0, 0, 0, 0, 0, 2, 0, 0, 1, 2, 1, 2, 1, 1, 0, 0, 8, 2, 0, 0, 1, 3, 5, 4, 6, 8, 5, 4, 3, 2, 1, 0, 0, 0, 0, 0, 0, 0, 0, 16, 7, 0, 0, 0, 0, 0, 0, 0, 0, 0, 0, 0, 0, 0, 0, 0, 0, 0, 0],
    [0, 0, 0, 0, 0, 0, 2, 0, 0, 1, 1, 1, 2, 1, 1, 0, 0, 0, 2, 0, 0, 1, 3, 4, 5, 6, 7, 5, 4, 3, 2, 1, 0, 0, 0, 0, 0, 0, 0, 0, 0, 0, 0, 0, 0, 0, 0, 0, 7, 0, 0, 0, 0, 0, 0, 0, 0, 0, 0, 0],
    [0, 0, 0, 0, 0, 0, 2, 0, 0, 1, 2, 1, 3, 1, 1, 0, 0, 0, 2, 0, 0, 1, 19, 4, 5, 6, 7, 5, 4, 3, 2, 1, 0, 0, 0, 0, 0, 0, 0, 0, 0, 0, 0, 0, 0, 0, 0, 0, 0, 0, 0, 0, 0, 0, 0, 0, 0, 0, 0, 0],
    [0, 0, 0, 0, 0, 0, 2, 0, 0, 1, 2, 2, 1, 1, 1, 0, 0, 0, 2, 0, 0, 1, 3, 5, 4, 6, 7, 4, 4, 3, 2, 1, 0, 0, 0, 0, 0, 0, 0, 0, 0, 0, 0, 0, 0, 0, 0, 0, 0, 0, 0, 0, 0, 0, 0, 0, 0, 0, 0, 0],
    [0, 0, 0, 0, 0, 0, 2, 0, 0, 1, 2, 1, 2, 1, 1, 0, 0, 0, 2, 0, 0, 1, 3, 4, 5, 6, 7, 5, 4, 3, 2, 1, 0, 0, 0, 0, 10, 0, 0, 0, 0, 0, 0, 0, 0, 0, 0, 0, 0, 0, 0, 0, 0, 0, 0, 0, 0, 0, 0, 0],
]

OFFSET = 45  # precip (right axis, mm) and temperatures share one axis: left = right - 45
FONT = "DejaVu Sans Mono"

# ---------------------------------------------------------------- data frames
ids = [f"{i + 1:02d}" for i in range(50)]
rows = []
for i in range(50):
    t850 = E850[i % len(E850)] + L850[i]
    t500 = E500[i % len(E500)] + L500[i]
    for s, v in enumerate(t850):
        rows.append({"s": s, "v": v, "m": ids[i], "g": f"a{i}"})
    for s, v in enumerate(t500):
        rows.append({"s": s, "v": v, "m": ids[i], "g": f"b{i}"})
    for k, p in enumerate(PR[i]):
        rows.append({"s": k + 1, "v": p - OFFSET, "m": ids[i], "g": f"c{i}"})
members = pd.DataFrame(rows)


def series_df(t850, t500, pr):
    r = []
    r += [{"s": s, "v": v, "g": "a"} for s, v in enumerate(t850)]
    r += [{"s": s, "v": v, "g": "b"} for s, v in enumerate(t500)]
    r += [{"s": k + 1, "v": p - OFFSET, "g": "c"} for k, p in enumerate(pr)]
    return pd.DataFrame(r)


mean_df = series_df(MEAN850, MEAN500, MEANPR)
ctrl_df = series_df(CTRL850, CTRL500, CTRLPR)
oper_df = series_df(OPER850, OPER500, OPERPR)

YDOM = [-52.87, 31.86]
xs = alt.Scale(domain=[0, 60], nice=False, zero=False)
ys = alt.Scale(domain=YDOM, nice=False, zero=False)
X = alt.X("s:Q", scale=xs, axis=None)
Y = alt.Y("v:Q", scale=ys, axis=None)

ticks_df = pd.DataFrame({"v": TICKS})
thick_df = pd.DataFrame({"v": THICK})
days_df = pd.DataFrame({"s": list(range(0, 61, 4)), "lab": DAYS})
zero_df = pd.DataFrame({"v": [0]})

axis_style = dict(labelAlign="left", labelBaseline="middle", labelOffset=1.5, ticks=False, tickSize=0,
                  grid=False, domain=False, labelFont=FONT, labelFontSize=10.5, labelColor="black",
                  title=None, labelOverlap=False, labelFlush=False, values=TICKS)
grid_thin = alt.Chart(ticks_df).mark_rule(color="#c0c0c0", strokeWidth=1).encode(
    y=alt.Y("v:Q", scale=ys, axis=alt.Axis(orient="left", labelExpr="'' + datum.value",
                                           labelPadding=30, **axis_style)))
grid_right = alt.Chart(ticks_df).mark_rule(strokeOpacity=0).encode(
    y=alt.Y("v:Q", scale=ys, axis=alt.Axis(orient="right", labelExpr=f"'' + (datum.value + {OFFSET})",
                                           labelPadding=18, **axis_style)))
grid_thick = alt.Chart(thick_df).mark_rule(color="#c0c0c0", strokeWidth=2).encode(y=Y)
zero_a = alt.Chart(zero_df).mark_rule(color="#9a9a9a", strokeWidth=1, yOffset=-1).encode(y=Y)
zero_b = alt.Chart(zero_df).mark_rule(color="#9a9a9a", strokeWidth=1, yOffset=1).encode(y=Y)
grid_v = alt.Chart(days_df).mark_rule(color="#c0c0c0", strokeWidth=1).encode(x=X)
day_labels = alt.Chart(days_df).mark_text(
    angle=270, align="right", baseline="middle", font=FONT, fontSize=9.5, color="black", xOffset=6
).encode(x=X, y=alt.value(595), text="lab:N")

member_lines = alt.Chart(members).mark_line(strokeWidth=1, clip=True).encode(
    x=X, y=Y,
    color=alt.Color("m:N", scale=alt.Scale(domain=ids, range=COLORS), legend=None),
    detail="g:N")
member_pts = alt.Chart(members).mark_point(shape="cross", size=7, filled=True, strokeWidth=0, opacity=1,
                                           clip=True).encode(
    x=X, y=Y,
    color=alt.Color("m:N", scale=alt.Scale(domain=ids, range=COLORS), legend=None))
ctrl_line = alt.Chart(ctrl_df).mark_line(color="#0000ff", strokeWidth=3).encode(x=X, y=Y, detail="g:N")
oper_line = alt.Chart(oper_df).mark_line(color="#000000", strokeWidth=4).encode(x=X, y=Y, detail="g:N")
mean_line = alt.Chart(mean_df).mark_line(color="#ff0000", strokeWidth=4.5).encode(x=X, y=Y, detail="g:N")

one = pd.DataFrame({"a": [0]})


def label(text, x, y, size=10, weight="normal", align="left"):
    return alt.Chart(one).mark_text(
        text=text, font=FONT, fontSize=size, fontWeight=weight, align=align,
        baseline="middle", color="black").encode(x=alt.value(x), y=alt.value(y))


def seg(x1, x2, y, color, w):
    return alt.Chart(one).mark_rule(color=color, strokeWidth=w).encode(
        x=alt.value(x1), x2=alt.value(x2), y=alt.value(y))


annotations = [
    seg(0, 642, 592, "#000000", 1),
    label("Temp. 850hPa", 10, 123.5),
    label("Temp. 500hPa", 10, 309.5),
    label("Précipitations", 10, 485),
    label("(°c)", -30, 598.5),
    label("(mm)", 657, 598.5, size=9.5),
    seg(-15, 15, 629, "#ff0000", 4), label("Moyenne des scénarios", 25, 629.5),
    seg(175, 205, 629, "#0000ff", 4), label("Run de contrôle", 215, 629.5),
    seg(175, 205, 639, "#000000", 4), label("Run CEP/ECMWF", 215, 639.5),
    label("50 Perts.", 319, 644),
    label("Ensemble ECMWF/CEP du 30/05/2022 - 00Z", 400, 669),
    label("Copyright 2022 Meteociel.fr - ECMWF", 400, 683.5, size=11.4, weight="bold"),
    label("Diagramme ensembles ECMWF/CEP 0.4° sur 360h pour Geneve", -20, 669, size=11.4, weight="bold"),
    label("Températures 850hPa et 500hPa (°C) , précipitations (mm)", -20, 683.5),
]
title_box = alt.Chart(one).mark_rect(fillOpacity=0, stroke="black", strokeWidth=1.5).encode(
    x=alt.value(-30), x2=alt.value(390), y=alt.value(659), y2=alt.value(691))

# colour key of the 50 perturbations (two rows of 25)
key = pd.DataFrame({
    "lab": ids,
    "col": COLORS,
    "px": [379 + 11 * (i % 25) for i in range(50)],
    "py": [637 + 7 * (i // 25) for i in range(50)],
    "ty": [632 if i < 25 else 654.5 for i in range(50)],
})
key = key.assign(px2=key.px + 11, py2=key.py + 7, tx=key.px + 5.5)
key_rects = alt.Chart(key).mark_rect().encode(
    x=alt.X("px:Q", scale=None, axis=None), x2="px2:Q",
    y=alt.Y("py:Q", scale=None, axis=None), y2="py2:Q",
    color=alt.Color("col:N", scale=None, legend=None))
key_text = alt.Chart(key).mark_text(font=FONT, fontSize=9, fontWeight="bold", color="black",
                                    baseline="middle", align="center").encode(
    x=alt.X("tx:Q", scale=None, axis=None), y=alt.Y("ty:Q", scale=None, axis=None), text="lab:N")

chart = alt.layer(
    grid_thin, grid_thick, zero_a, zero_b, grid_v, grid_right, day_labels,
    member_lines, member_pts, ctrl_line, oper_line, mean_line,
    *annotations, title_box, key_rects, key_text,
).resolve_axis(y="independent").properties(
    width=642, height=592,
    padding={"left": 42, "top": 0, "right": 40, "bottom": 100},
    autosize=alt.AutoSizeParams(type="none"),
    background="white",
).configure_view(stroke=None)

chart.save("out.html", embed_options={"renderer": "svg", "actions": False})
